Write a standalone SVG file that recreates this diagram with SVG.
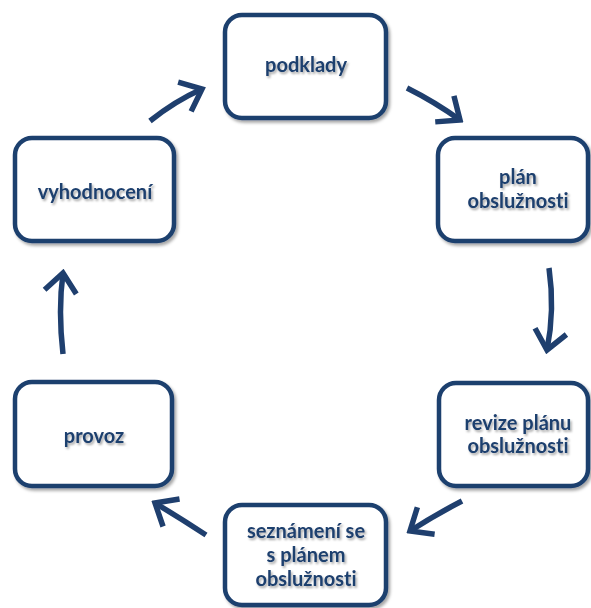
<svg xmlns="http://www.w3.org/2000/svg" width="591" height="608" viewBox="0 0 591 608">
<defs>
<filter id="sh" x="-10%" y="-10%" width="130%" height="130%">
<feDropShadow dx="2" dy="2.5" stdDeviation="1.5" flood-color="#000" flood-opacity="0.35"/>
</filter>
<filter id="tsh" x="-10%" y="-20%" width="130%" height="160%">
<feDropShadow dx="1.5" dy="2" stdDeviation="1" flood-color="#000" flood-opacity="0.35"/>
</filter>
<marker id="ah" markerUnits="userSpaceOnUse" viewBox="-26 -20 30 40" markerWidth="30" markerHeight="40" refX="0" refY="0" orient="auto">
<path d="M-19,-16 L0,0 L-19,16" fill="none" stroke="#1f3f6e" stroke-width="5.5" stroke-linejoin="miter"/>
</marker>
</defs>
<style>
.box{fill:#fff;stroke:#1f3f6e;stroke-width:4.5;filter:url(#sh)}
.lbl{font-family:Lato,"Open Sans","Liberation Sans",sans-serif;font-weight:700;font-size:20px;font-variant-ligatures:none;fill:#1f3f6e;text-anchor:middle;filter:url(#tsh)}
.con{fill:none;stroke:#1f3f6e;stroke-width:5.5;marker-end:url(#ah)}
</style>
<rect width="591" height="608" fill="#fff"/>
<g id="connectors">
<path class="con" d="M150,121 Q175,101 202,89"/>
<path class="con" d="M407,88 Q435,102 460,120"/>
<path class="con" d="M549,268 Q555,310 547,350"/>
<path class="con" d="M462,501 Q435,515 410,531"/>
<path class="con" d="M206,535 Q180,518 155,503"/>
<path class="con" d="M63,354 Q58,310 63,273"/>
</g>
<g id="podklady">
<rect class="box" x="225" y="15" width="161" height="103" rx="17"/>
<text class="lbl" x="306" y="72">podklady</text>
</g>
<g id="plan">
<rect class="box" x="438" y="138" width="150" height="103" rx="17"/>
<text class="lbl" x="518" y="184">plán</text>
<text class="lbl" x="518" y="208">obslužnosti</text>
</g>
<g id="revize">
<rect class="box" x="439" y="383" width="149" height="103" rx="17"/>
<text class="lbl" x="518" y="430">revize plánu</text>
<text class="lbl" x="518" y="453">obslužnosti</text>
</g>
<g id="seznameni">
<rect class="box" x="225" y="505" width="161" height="100" rx="17"/>
<text class="lbl" x="306" y="538">seznámení se</text>
<text class="lbl" x="306" y="562">s plánem</text>
<text class="lbl" x="306" y="586">obslužnosti</text>
</g>
<g id="provoz">
<rect class="box" x="15" y="382" width="157" height="104" rx="17"/>
<text class="lbl" x="94" y="443">provoz</text>
</g>
<g id="vyhodnoceni">
<rect class="box" x="15" y="138" width="159" height="103" rx="17"/>
<text class="lbl" x="95" y="199">vyhodnocení</text>
</g>
</svg>
